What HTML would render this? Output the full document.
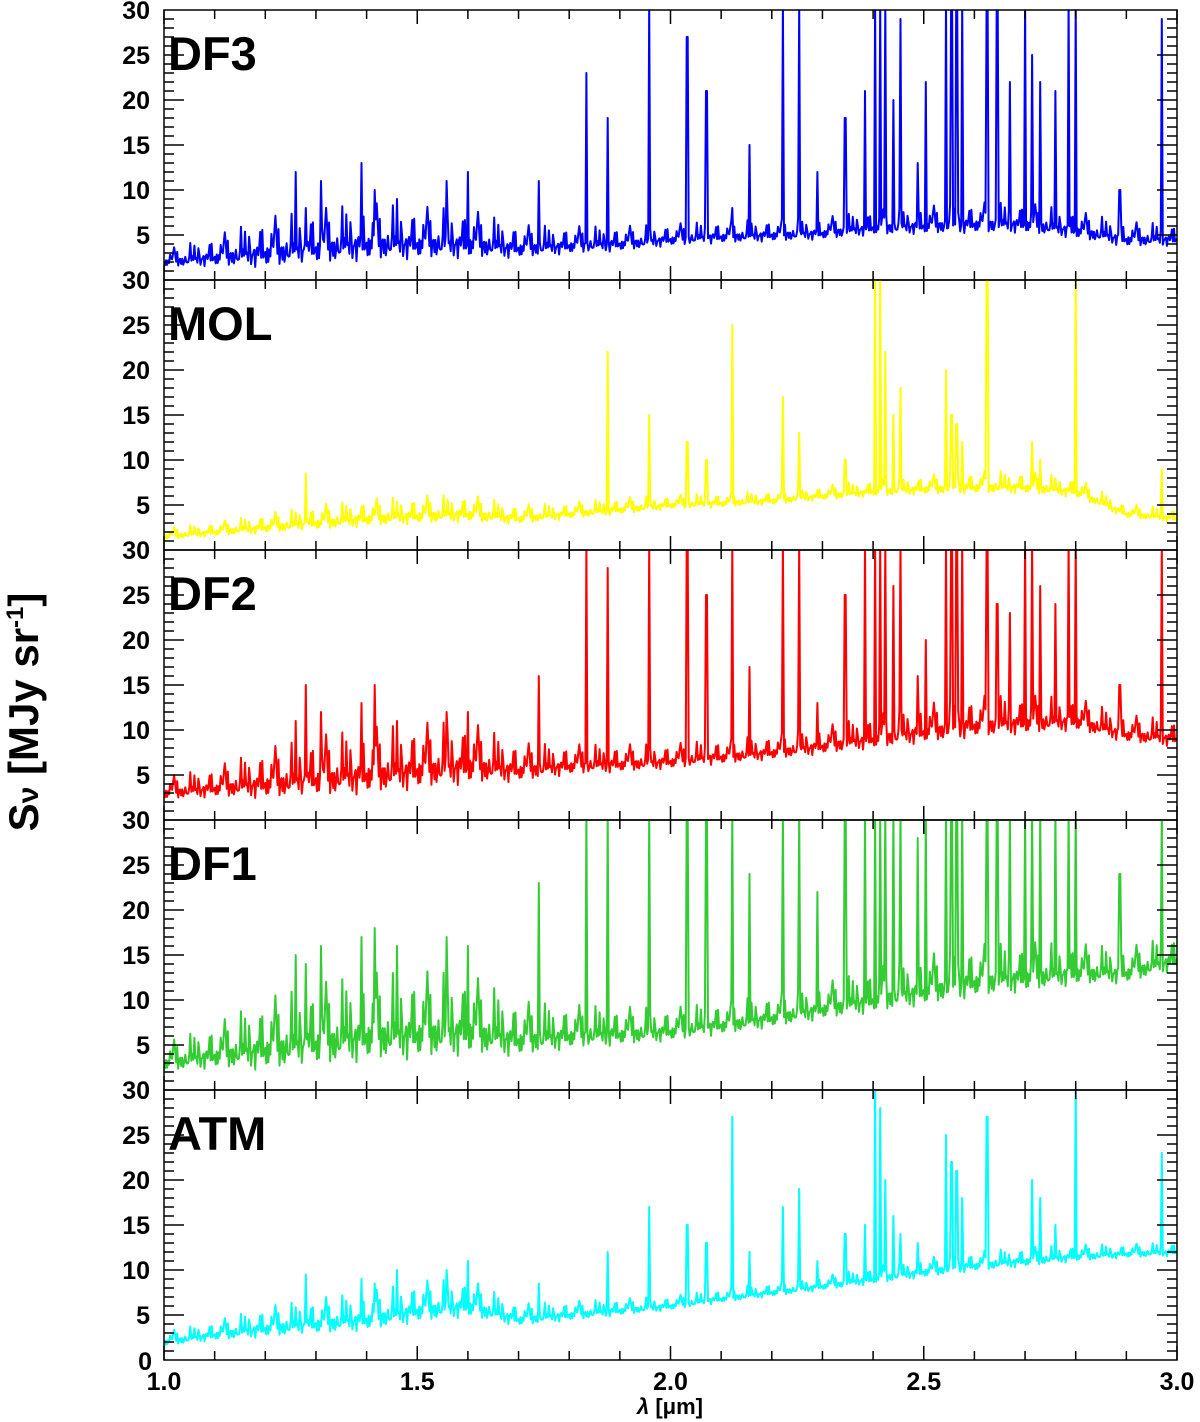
<!DOCTYPE html>
<html><head><meta charset="utf-8"><style>
html,body{margin:0;padding:0;background:#fff}
svg{display:block;font-family:"Liberation Sans","DejaVu Sans",sans-serif}
</style></head><body>
<svg id="chart" width="1200" height="1422" viewBox="0 0 1200 1422" xmlns="http://www.w3.org/2000/svg">
<text transform="translate(38,712) rotate(-90)" text-anchor="middle" font-size="42" font-weight="bold">S<tspan font-size="30">ν</tspan> [MJy sr<tspan font-size="24" dy="-15">-1</tspan><tspan dy="15">]</tspan></text>
<text x="670" y="1414" text-anchor="middle" font-size="22" font-weight="bold"><tspan font-style="italic">λ</tspan> [μm]</text>
</svg>
<script>
// ---- data ----
const waveGrid = [1.0,1.1,1.2,1.3,1.4,1.5,1.6,1.7,1.8,1.9,2.0,2.1,2.2,2.3,2.4,2.5,2.6,2.7,2.8,2.9,3.0];
const xTickLabels = ["1.0","1.5","2.0","2.5","3.0"];
const yTickLabels = ["5","10","15","20","25","30"];
const seriesNames = ["DF3","MOL","DF2","DF1","ATM"];
const seriesColors = ["#0000ff","#ffff00","#ff0000","#33cc33","#00ffff"];
const contDF3 = [2,2.5,3,3.5,4,4,4,3.5,3.8,4,4.5,4.8,5,5.2,5.8,6,6.2,6.2,5.5,4.5,4.5];
const contMOL = [1.5,2,2.5,3,3.5,3.8,4,3.5,4,4.5,5,5.2,5.5,6,6.5,6.8,7,7,6.5,4,3.5];
const contDF2 = [3,3.5,4,4.5,5,5.5,6,5.5,6,6.2,6.5,7,7.5,8.2,9,9.8,10.5,10.8,11,9.5,9];
const contDF1 = [3,3.8,4.5,5.2,6,6.2,6.5,5.5,6,6.2,6.5,7.2,8,9,10,11,12,12.5,13,13,14.5];
const contATM = [2,2.8,3.5,4,4.5,5.5,6,4.5,5,5.5,6,6.8,7.5,8.2,9,9.8,10.5,11,11.5,11.8,12];
const noiseDF3 = [0.6,1.1,1.8,2,2.1,1.9,1.8,1.2,1,0.9,0.8,0.8,0.8,0.8,0.9,1,1.1,1.1,1,0.9,0.8];
const noiseMOL = [0.4,0.5,0.7,0.9,1,1,1,0.7,0.6,0.6,0.5,0.5,0.5,0.5,0.6,0.7,0.8,0.8,0.7,0.5,0.5];
const noiseDF2 = [0.8,1.1,1.8,2.2,2.4,2.4,2.3,1.4,1.1,1,0.9,0.9,0.9,1,1.2,1.4,1.5,1.4,1.2,1,1];
const noiseDF1 = [1,1.6,2.6,3,3.2,3.2,3,2,1.6,1.4,1.2,1.2,1.2,1.3,1.6,1.8,1.9,1.8,1.5,1.3,1.3];
const noiseATM = [0.5,0.7,1.1,1.3,1.4,1.5,1.4,0.8,0.7,0.6,0.5,0.5,0.5,0.5,0.6,0.7,0.7,0.7,0.6,0.5,0.5];
const lineWaves = [1.26,1.28,1.31,1.39,1.416,1.46,1.558,1.60,1.74,1.834,1.876,1.893,1.958,2.033,2.071,2.122,2.156,2.223,2.254,2.29,2.345,2.385,2.404,2.414,2.425,2.44,2.454,2.487,2.505,2.545,2.555,2.565,2.575,2.625,2.645,2.67,2.70,2.715,2.73,2.76,2.785,2.80,2.887,2.97];
const peakDF3 = [12,8,11,13,10,9,11,12,11,23,18,14,31,27,21,8,15,31,31,12,18,21,31,31,31,20,29,13,22,31,31,31,31,31,31,22,31,25,22,21,31,31,10,29];
const peakMOL = [0,8.5,0,0,0,0,0,0,0,0,22,0,15,12,10,25,0,17,13,0,10,0,31,31,22,15,18,0,0,20,15,14,12,31,0,0,0,12,10,0,0,31,0,9];
const peakDF2 = [11,15,12,13,15,11,12,12,16,31,28,20,31,31,25,31,17,31,31,13,25,31,31,31,31,26,31,16,20,31,31,31,31,31,24,23,31,31,26,24,31,31,15,31];
const peakDF1 = [15,14,16,17,18,16,17,16,23,31,31,28,31,31,30,31,24,31,31,22,31,31,31,31,31,31,31,28,31,31,31,31,31,31,31,31,31,31,31,31,31,31,24,31];
const peakATM = [0,9.5,0,9,8.5,10,10,11,8.5,0,12,0,17,15,13,27,12,17,19,11,14,15,31,28,20,16,14,13,0,25,22,21,18,27,0,0,0,20,18,15,0,31,0,23];
const jitter = [0.2,-0.5,0.8,-0.1,0.4,-0.9,0.6,0.1,-0.3,1.0,-0.6,0.3,-0.2,0.7,-0.8,0.5,0.0,-0.4,0.9,-0.7,0.2,0.6,-0.5,0.1,-1.0,0.4,0.8,-0.3,0.3,-0.6,0.7,-0.1,0.5,-0.9,0.2,1.0,-0.4,0.0,0.6,-0.2,-0.7,0.9,0.1,-0.5,0.4,0.3,-0.8,0.7,-0.3,0.5];
const conts = [contDF3,contMOL,contDF2,contDF1,contATM];
const noises = [noiseDF3,noiseMOL,noiseDF2,noiseDF1,noiseATM];
const peaks = [peakDF3,peakMOL,peakDF2,peakDF1,peakATM];

// ---- layout ----
const X0=164, X1=1177, PTOP=10, PH=270;
const xs = w => X0 + (w-1.0)/2.0*(X1-X0);
const ys = (p,v) => PTOP + p*PH + PH - v/30*PH;
const NS = "http://www.w3.org/2000/svg";
const svg = document.getElementById('chart');
function mk(tag, attrs, parent){ const e=document.createElementNS(NS,tag); for(const k in attrs) e.setAttribute(k,attrs[k]); (parent||svg).appendChild(e); return e; }
function interp(arr,w){ const f=(w-1.0)/0.1; const i=Math.min(19,Math.max(0,Math.floor(f))); const t=f-i; return arr[i]*(1-t)+arr[i+1]*t; }

for(let p=0;p<5;p++){
  const g = mk('g',{});
  
  
  const top = PTOP+p*PH, bot = top+PH;
  const cp = mk('clipPath',{id:'cp'+p},g);
  mk('rect',{x:X0,y:top,width:X1-X0,height:PH},cp);
  let d='';
  const N=1000;
  for(let i=0;i<=N;i++){
    const w=1.0+2.0*i/N;
    let v=interp(conts[p],w);
    const a=interp(noises[p],w);
    let j=jitter[i%50]*0.6+jitter[(i*7+3)%50]*0.5;
    if(j>0.5) j*=2.2;
    if(jitter[(i*13+5)%50]>0.85 && jitter[(i*3)%50]>0.3) j+=2.5;
    v+=j*a;
    for(let k=0;k<lineWaves.length;k++){
      const h=peaks[p][k];
      if(h>0 && Math.abs(w-lineWaves[k])<0.001) v=Math.max(v,h);
    }
    d+=(i?'L':'M')+xs(w).toFixed(1)+','+ys(p,v).toFixed(1);
  }
  const path = mk('path',{d:d,fill:'none',stroke:seriesColors[p],'stroke-width':2,'stroke-linejoin':'round','clip-path':'url(#cp'+p+')'},g);
  
  
  mk('rect',{x:X0,y:top,width:X1-X0,height:PH,fill:'none',stroke:'#000','stroke-width':1.5},g);
  for(let k=0;k<=20;k++){
    const x=xs(1.0+k*0.1);
    const L=(k%5===0)?14:9;
    mk('line',{x1:x,y1:bot,x2:x,y2:bot-L,stroke:'#000','stroke-width':1.5},g);
    mk('line',{x1:x,y1:top,x2:x,y2:top+L,stroke:'#000','stroke-width':1.5},g);
  }
  for(let v=1;v<30;v++){
    const y=ys(p,v); const L=(v%5===0)?20:10;
    mk('line',{x1:X0,y1:y,x2:X0+L,y2:y,stroke:'#000','stroke-width':1.5},g);
    mk('line',{x1:X1,y1:y,x2:X1-L,y2:y,stroke:'#000','stroke-width':1.5},g);
  }
  yTickLabels.forEach((t,i)=>{
    const v=(i+1)*5;
    const tx=mk('text',{x:150,y:ys(p,v)+9,'text-anchor':'end','font-size':25,'font-weight':'bold'},g);
    
    
    tx.textContent=t;
  });
  const lab=mk('text',{x:168,y:top+60,'font-size':47,'font-weight':'bold'},g);
  
  
  lab.textContent=seriesNames[p];
}
const zero=mk('text',{x:152,y:ys(4,0)+10,'text-anchor':'end','font-size':25,'font-weight':'bold'});


zero.textContent='0';
xTickLabels.forEach((t,i)=>{
  const tx=mk('text',{x:xs(1.0+i*0.5),y:1390,'text-anchor':'middle','font-size':25,'font-weight':'bold'});
  
  
  tx.textContent=t;
});
</script>
</body></html>
